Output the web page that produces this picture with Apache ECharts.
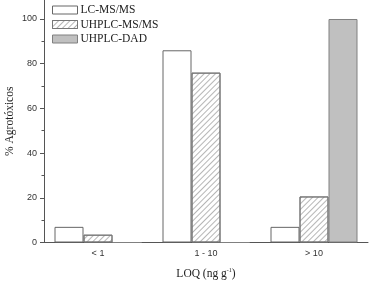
<!DOCTYPE html>
<html><head><meta charset="utf-8">
<script src="https://cdn.jsdelivr.net/npm/echarts@6/dist/echarts.min.js"></script>
<style>html,body{margin:0;padding:0;background:#fff}#c{width:373px;height:286px}</style>
</head><body><div id="c"></div>
<script>
var categories = ['< 1', '1 - 10', '> 10'];
var lcmsms = [7, 86, 7];
var uhplcmsms = [3.5, 76, 20.6];
var uhplcdad = [0, 0, 100];
var yMajorTicks = [0, 20, 40, 60, 80, 100];
var yMinorTicks = [10, 30, 50, 70, 90];

var chart = echarts.init(document.getElementById('c'), null, {renderer: 'canvas'});
var axisColor = '#555';
var serif = '"Liberation Serif", "DejaVu Serif", serif';
var sans = '"Liberation Sans", Arial, sans-serif';
chart.setOption({
  animation: false,
  backgroundColor: '#fff',
  grid: {left: 44, right: 5, top: 0, bottom: 43.5, containLabel: false, outerBoundsMode: 'none'},
  legend: {
    orient: 'vertical', left: 47, top: -1, itemWidth: 25, itemHeight: 8, itemGap: 2.5, icon: 'rect',
    itemStyle: {borderWidth: 1},
    textStyle: {fontFamily: serif, fontSize: 11.5, color: '#222', padding: [0, 0, 0, -2]},
    data: ['LC-MS/MS', 'UHPLC-MS/MS', 'UHPLC-DAD']
  },
  xAxis: [{
    type: 'category', data: categories,
    axisLine: {lineStyle: {color: axisColor, width: 1}},
    axisTick: {alignWithLabel: true, length: 4, lineStyle: {color: axisColor}},
    axisLabel: {fontFamily: sans, fontSize: 9, color: '#333', margin: 7},
    name: 'LOQ (ng g{sup|-1})', nameLocation: 'middle', nameGap: 25, nameMoveOverlap: false,
    nameTextStyle: {fontFamily: serif, fontSize: 11.5, color: '#222',
      rich: {sup: {fontFamily: serif, fontSize: 6, color: '#222', verticalAlign: 'top', padding: [0, 0, 6, 0]}}}
  }, {
    type: 'category', data: categories, position: 'bottom',
    axisLine: {show: false},
    axisTick: {length: 2.5, lineStyle: {color: axisColor}},
    axisLabel: {show: false}
  }],
  yAxis: [{
    type: 'value', min: 0, max: 108.5,
    axisLine: {show: true, lineStyle: {color: axisColor, width: 1}},
    axisTick: {show: true, length: 4, customValues: yMajorTicks, lineStyle: {color: axisColor}},
    axisLabel: {customValues: yMajorTicks, fontFamily: sans, fontSize: 9, color: '#333', margin: 7},
    splitLine: {show: false},
    name: '% Agrotóxicos', nameLocation: 'middle', nameGap: 28, nameMoveOverlap: false,
    nameTextStyle: {fontFamily: serif, fontSize: 11.5, color: '#222'}
  }, {
    type: 'value', min: 0, max: 108.5, position: 'left',
    axisLine: {show: false},
    axisTick: {show: true, length: 2.5, customValues: yMinorTicks, lineStyle: {color: axisColor}},
    axisLabel: {show: false},
    splitLine: {show: false}
  }],
  series: [{
    name: 'LC-MS/MS', type: 'bar', data: lcmsms, barWidth: 29, barGap: '0%',
    itemStyle: {color: '#fff', borderColor: '#666', borderWidth: 1}
  }, {
    name: 'UHPLC-MS/MS', type: 'bar', data: uhplcmsms, barWidth: 29, barGap: '0%',
    itemStyle: {color: '#fff', borderColor: '#777', borderWidth: 1,
      decal: {symbol: 'rect', color: 'rgba(110,110,110,0.5)', dashArrayX: [1, 0], dashArrayY: [1, 2.5], rotation: -Math.PI / 4, symbolSize: 1}}
  }, {
    name: 'UHPLC-DAD', type: 'bar', data: uhplcdad, barWidth: 29, barGap: '0%',
    itemStyle: {color: '#c0c0c0', borderColor: '#808080', borderWidth: 1}
  }]
});
</script></body></html>
